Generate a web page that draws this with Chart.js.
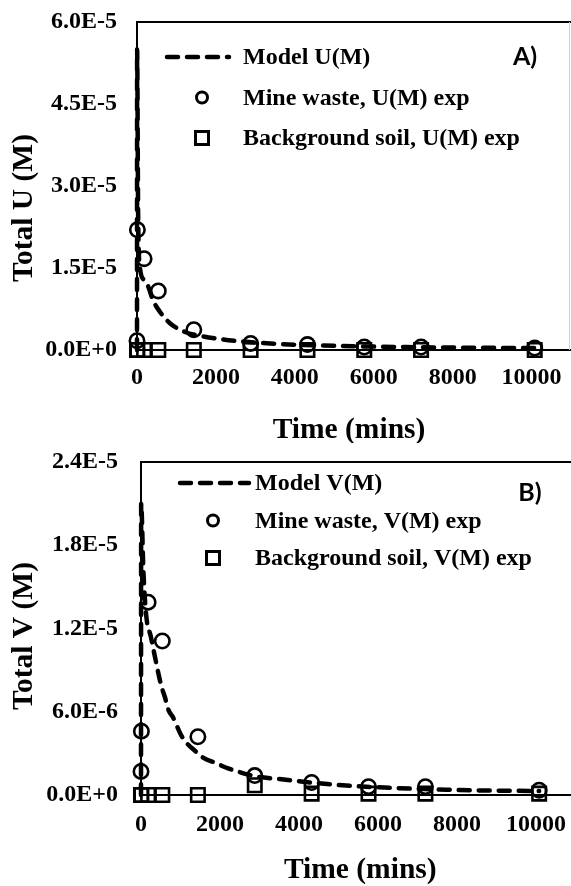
<!DOCTYPE html>
<html lang="en">
<head>
<meta charset="UTF-8">
<title>Total U and V versus time</title>
<script src="https://cdn.jsdelivr.net/npm/chart.js@4"></script>
<style>
  html, body { margin: 0; background: #fff; overflow: hidden; }
  canvas { position: absolute; left: 0; }
</style>
</head>
<body>
<canvas id="chartU" width="571" height="443" style="top:0"></canvas>
<canvas id="chartV" width="580" height="443" style="top:443px"></canvas>
<script>
// sampling times of the batch experiments (mins)
const sampleTimes = [0, 10, 180, 540, 1440, 2880, 4320, 5760, 7200, 10080];

// uranium, total in solution (M)
const uMineWaste  = [1.7e-6, 2.2e-5, 1.67e-5, 1.08e-5, 3.7e-6, 1.2e-6, 1.0e-6, 0.55e-6, 0.55e-6, 0.35e-6];
const uBackground = [0, 0, 0, 0, 0, 0, 0, 0, 0, 0];
const uModelTimes = [0, 3, 30, 76, 180, 280, 405, 580, 835, 1215, 1595, 2100, 2600, 3600, 5100, 7900, 10080];
const uModel      = [0, 5.5e-5, 2.4e-5, 1.5e-5, 1.28e-5, 1.17e-5, 9.1e-6, 7.0e-6, 4.9e-6, 3.3e-6, 2.6e-6, 2.0e-6, 1.6e-6, 1.1e-6, 0.75e-6, 0.45e-6, 0.35e-6];

// vanadium, total in solution (M)
const vMineWaste  = [1.7e-6, 4.6e-6, 1.39e-5, 1.11e-5, 4.2e-6, 1.4e-6, 0.9e-6, 0.6e-6, 0.6e-6, 0.35e-6];
const vBackground = [0, 0, 0, 0, 0, 7e-7, 1e-7, 1e-7, 1e-7, 1e-7];
const vModelTimes = [0, 4, 60, 130, 250, 350, 430, 520, 600, 700, 810, 1000, 1140, 1400, 1570, 1900, 2130, 2500, 2900, 3500, 5000, 7750, 10080];
const vModel      = [0, 2.1e-5, 1.62e-5, 1.3e-5, 1.14e-5, 1.0e-5, 8.9e-6, 7.8e-6, 7.1e-6, 6.1e-6, 5.6e-6, 4.4e-6, 3.8e-6, 3.1e-6, 2.7e-6, 2.3e-6, 2.0e-6, 1.65e-6, 1.35e-6, 1.15e-6, 0.72e-6, 0.38e-6, 0.28e-6];

// axis ticks
const timeTicks = [0, 2000, 4000, 6000, 8000, 10000];
const uTicks = [0, 1.5e-5, 3.0e-5, 4.5e-5, 6.0e-5];
const vTicks = [0, 6.0e-6, 1.2e-5, 1.8e-5, 2.4e-5];

const serif = '"Liberation Serif", "Times New Roman", serif';
Chart.defaults.color = '#000';
Chart.defaults.font.family = serif;
Chart.defaults.font.weight = 'bold';

function pts(xs, ys) {
  return xs.map((x, i) => ({ x: x, y: ys[i] }));
}

// frame, axis titles, legend and panel tag
function panelDecor(o) {
  return {
    id: 'panelDecor',
    beforeDatasetsDraw(chart) {
      const { ctx, chartArea: a } = chart;
      ctx.save();
      ctx.strokeStyle = '#000';
      ctx.lineWidth = 2;
      ctx.beginPath();
      ctx.moveTo(a.left - 1, a.top);
      ctx.lineTo(a.right, a.top);
      ctx.stroke();
      if (o.rightEdge) {
        ctx.strokeStyle = '#d4d4d4';
        ctx.lineWidth = 1;
        ctx.beginPath();
        ctx.moveTo(a.right - 1.5, a.top);
        ctx.lineTo(a.right - 1.5, a.bottom);
        ctx.stroke();
      }
      ctx.restore();
    },
    afterDraw(chart) {
      const { ctx, chartArea: a } = chart;
      ctx.save();
      ctx.fillStyle = '#000';
      ctx.textBaseline = 'middle';

      ctx.font = 'bold 29.5px ' + serif;
      ctx.textAlign = 'center';
      ctx.fillText(o.xTitle, (a.left + a.right) / 2 + o.xTitleDx, a.bottom + o.xTitleDy);
      ctx.save();
      ctx.translate(o.yTitleX, (a.top + a.bottom) / 2 + o.yTitleDy);
      ctx.rotate(-Math.PI / 2);
      ctx.fillText(o.yTitle, 0, 0);
      ctx.restore();

      ctx.font = 'bold 25px Lato, "Noto Sans", sans-serif';
      ctx.fillText(o.tag, o.tagX, a.top + o.tagDy);

      ctx.font = 'bold 24px ' + serif;
      ctx.textAlign = 'left';
      ctx.strokeStyle = '#000';
      chart.data.datasets.forEach((ds, i) => {
        const y = a.top + o.legendTop + i * o.legendGap;
        const mx = a.left + o.markX;
        ctx.save();
        if (ds.showLine) {
          ctx.lineWidth = ds.borderWidth;
          ctx.lineCap = 'round';
          ctx.setLineDash(ds.borderDash);
          ctx.beginPath();
          ctx.moveTo(a.left + o.lineX0, y);
          ctx.lineTo(a.left + o.lineX1, y);
          ctx.stroke();
        } else if (ds.pointStyle === 'rect') {
          ctx.lineWidth = 3;
          ctx.strokeRect(mx - 6.5, y - 6.5, 13, 13);
        } else {
          ctx.lineWidth = 3;
          ctx.beginPath();
          ctx.arc(mx, y, 5.5, 0, Math.PI * 2);
          ctx.stroke();
        }
        ctx.restore();
        ctx.fillText(ds.label, a.left + o.textX, y + 1);
      });
      ctx.restore();
    }
  };
}

function makeChart(id, d) {
  return new Chart(document.getElementById(id), {
    type: 'scatter',
    data: {
      datasets: [
        {
          label: d.modelLabel,
          data: pts(d.modelTimes, d.model),
          showLine: true,
          pointRadius: 0,
          borderColor: '#000',
          borderWidth: 4.5,
          borderDash: [11, 9],
          borderCapStyle: 'round',
          cubicInterpolationMode: 'monotone',
          clip: false
        },
        {
          label: d.mineLabel,
          data: pts(sampleTimes, d.mine),
          pointStyle: 'circle',
          pointRadius: 7.2,
          pointBorderWidth: 2.6,
          pointBorderColor: '#000',
          pointBackgroundColor: 'rgba(0,0,0,0)',
          clip: false
        },
        {
          label: d.soilLabel,
          data: pts(sampleTimes, d.soil),
          pointStyle: 'rect',
          pointRadius: 9.5,
          pointBorderWidth: 2.6,
          pointBorderColor: '#000',
          pointBackgroundColor: 'rgba(0,0,0,0)',
          clip: false
        }
      ]
    },
    options: {
      responsive: false,
      animation: false,
      events: [],
      layout: {
        autoPadding: false,
        padding: { top: d.top, right: d.right, left: 0, bottom: 0 }
      },
      plugins: { legend: { display: false }, tooltip: { enabled: false } },
      scales: {
        x: {
          type: 'linear',
          min: 0,
          max: 11000,
          grid: { display: false, drawTicks: false },
          border: { display: true, color: '#000', width: 2 },
          afterBuildTicks: s => { s.ticks = timeTicks.map(v => ({ value: v })); },
          afterFit: s => {
            s.height = d.xHeight;
            s.paddingLeft = 0;
            s.paddingRight = 0;
          },
          ticks: {
            font: { size: 24, weight: 'bold' },
            padding: d.xPad,
            maxRotation: 0,
            autoSkip: false,
            includeBounds: false,
            callback: v => String(v)
          }
        },
        y: {
          type: 'linear',
          min: 0,
          max: d.yMax,
          grid: { display: false, drawTicks: false },
          border: { display: true, color: '#000', width: 2 },
          afterBuildTicks: s => { s.ticks = d.yTicks.map(v => ({ value: v })); },
          afterFit: s => {
            s.width = d.yWidth;
            s.paddingTop = 0;
            s.paddingBottom = 0;
          },
          ticks: {
            font: { size: 24, weight: 'bold' },
            padding: d.yPad,
            callback: v => v.toExponential(1).toUpperCase()
          }
        }
      }
    },
    plugins: [panelDecor(d.decor)]
  });
}

makeChart('chartU', {
  modelLabel: 'Model U(M)',
  mineLabel: 'Mine waste, U(M) exp',
  soilLabel: 'Background soil, U(M) exp',
  modelTimes: uModelTimes, model: uModel, mine: uMineWaste, soil: uBackground,
  yMax: 6.0e-5, yTicks: uTicks,
  top: 22, right: 0, xHeight: 93, yWidth: 137, xPad: 13.5, yPad: 20,
  decor: {
    xTitle: 'Time (mins)', xTitleDx: -5, xTitleDy: 80,
    yTitle: 'Total U (M)', yTitleX: 24, yTitleDy: 22,
    tag: 'A)', tagX: 525, tagDy: 35,
    legendTop: 35, legendGap: 40.5,
    lineX0: 30, lineX1: 92, markX: 65, textX: 106,
    rightEdge: true
  }
});

makeChart('chartV', {
  modelLabel: 'Model V(M)',
  mineLabel: 'Mine waste, V(M) exp',
  soilLabel: 'Background soil, V(M) exp',
  modelTimes: vModelTimes, model: vModel, mine: vMineWaste, soil: vBackground,
  yMax: 2.4e-5, yTicks: vTicks,
  top: 19, right: 4.5, xHeight: 91, yWidth: 141, xPad: 15, yPad: 23,
  decor: {
    xTitle: 'Time (mins)', xTitleDx: 2, xTitleDy: 75,
    yTitle: 'Total V (M)', yTitleX: 24, yTitleDy: 7.5,
    tag: 'B)', tagX: 530, tagDy: 31,
    legendTop: 21, legendGap: 37.5,
    lineX0: 39, lineX1: 108, markX: 72, textX: 114,
    rightEdge: false
  }
});
</script>
</body>
</html>
